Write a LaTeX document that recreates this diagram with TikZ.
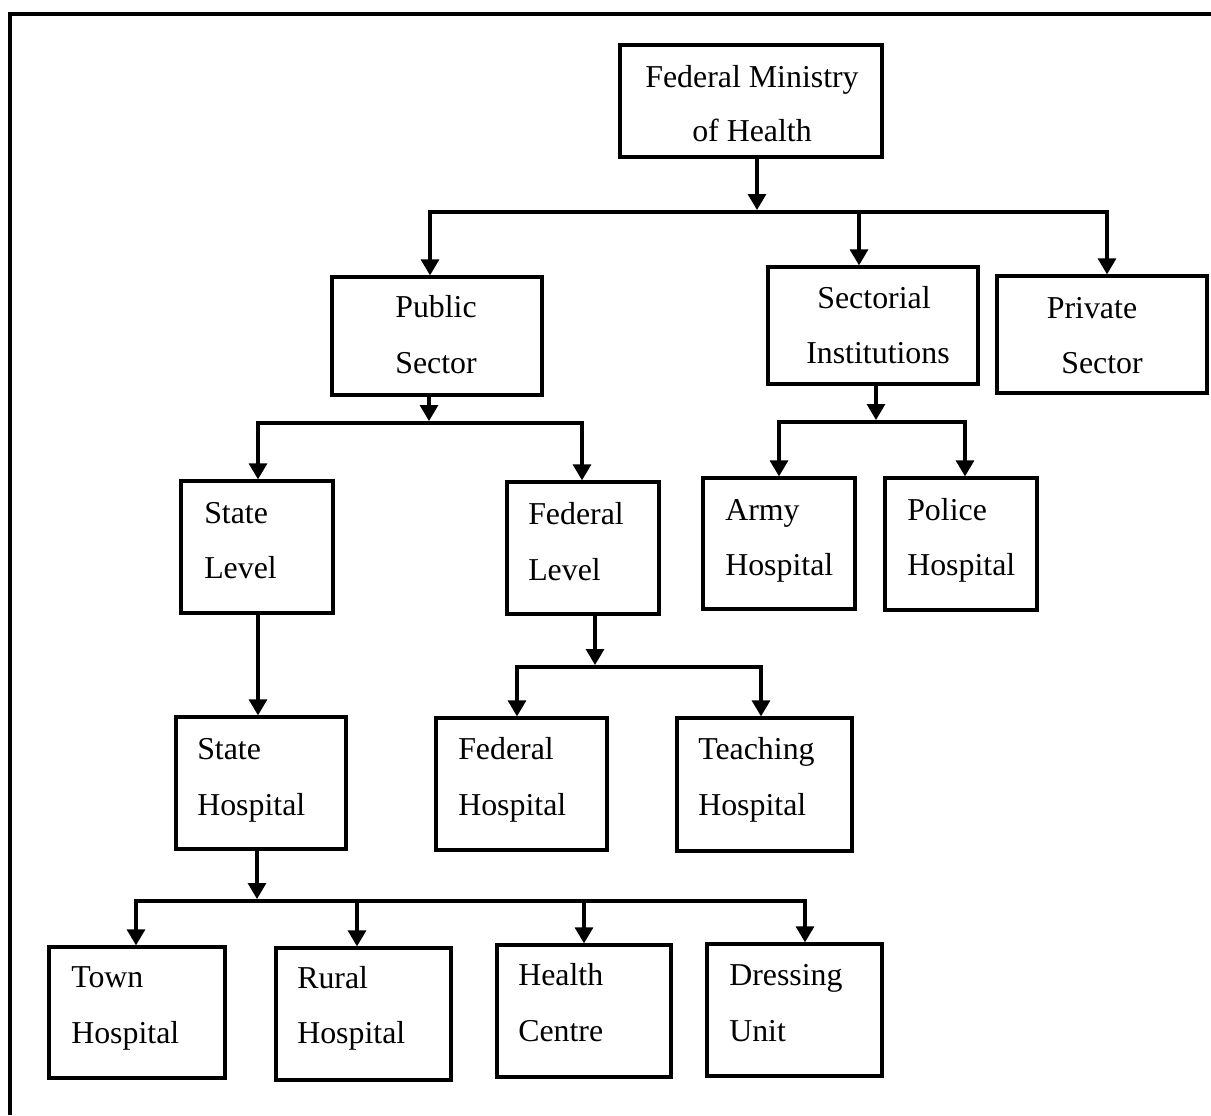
\documentclass[tikz,border=0pt]{standalone}
\usepackage{fontspec}
\setmainfont{Liberation Serif}
\usetikzlibrary{arrows.meta,fit}
\begin{document}
\begin{tikzpicture}[x=0.75pt,y=-0.75pt,
  box/.style={draw,line width=2.5pt,inner sep=0pt,rectangle},
  conn/.style={line width=2.5pt},
  arr/.style={conn,-{Triangle[width=13.5pt,length=12pt]}},
  lbl/.style={inner sep=0pt,font=\fontsize{23.9pt}{30pt}\selectfont},
  lt/.style={lbl,anchor=base west},
  ct/.style={lbl,anchor=base}]
\useasboundingbox (0,0) rectangle (1211,1115);
% frame
\draw[line width=3pt] (10,1115) -- (10,14) -- (1211,14);
% boxes
\node[box,fit={(620,45) (882,157)}] (fm) {};
\node[box,fit={(332,277) (542,395)}] (ps) {};
\node[box,fit={(768,267) (978,384)}] (si) {};
\node[box,fit={(997,276) (1207,393)}] (pv) {};
\node[box,fit={(181,481) (333,613)}] (sl) {};
\node[box,fit={(507,482) (659,614)}] (fl) {};
\node[box,fit={(703,478) (855,609)}] (ah) {};
\node[box,fit={(885,478) (1037,610)}] (ph) {};
\node[box,fit={(176,717) (346,849)}] (sh) {};
\node[box,fit={(436,718) (607,850)}] (fh) {};
\node[box,fit={(677,718) (852,851)}] (th) {};
\node[box,fit={(49,947) (225,1078)}] (tw) {};
\node[box,fit={(276,948) (451,1080)}] (ru) {};
\node[box,fit={(497,945) (671,1077)}] (hc) {};
\node[box,fit={(707,944) (882,1076)}] (du) {};
% texts
\node[ct] (fm1) at (752,87) {Federal Ministry};
\node[ct] (fm2) at (752,141) {of Health};
\node[ct] (ps1) at (436,317) {Public};
\node[ct] (ps2) at (436,373) {Sector};
\node[ct] (si1) at (874,308) {Sectorial};
\node[ct] (si2) at (878,363) {Institutions};
\node[ct] (pv1) at (1092,318) {Private};
\node[ct] (pv2) at (1102,373) {Sector};
\node[lt] (sl1) at (204,523) {State};
\node[lt] (sl2) at (204,578) {Level};
\node[lt] (fl1) at (528,524) {Federal};
\node[lt] (fl2) at (528,580) {Level};
\node[lt] (ah1) at (725,520) {Army};
\node[lt] (ah2) at (725,575) {Hospital};
\node[lt] (ph1) at (907,520) {Police};
\node[lt] (ph2) at (907,575) {Hospital};
\node[lt] (sh1) at (197,759) {State};
\node[lt] (sh2) at (197,815) {Hospital};
\node[lt] (fh1) at (458,759) {Federal};
\node[lt] (fh2) at (458,815) {Hospital};
\node[lt] (th1) at (698,759) {Teaching};
\node[lt] (th2) at (698,815) {Hospital};
\node[lt] (tw1) at (71,987) {Town};
\node[lt] (tw2) at (71,1043) {Hospital};
\node[lt] (ru1) at (297,988) {Rural};
\node[lt] (ru2) at (297,1043) {Hospital};
\node[lt] (hc1) at (518,985) {Health};
\node[lt] (hc2) at (518,1041) {Centre};
\node[lt] (du1) at (729,985) {Dressing};
\node[lt] (du2) at (729,1041) {Unit};
% junction coordinates
\coordinate (a1) at (757,210);
\coordinate (b1L) at (430,212);
\coordinate (b1M) at (859,212);
\coordinate (b1R) at (1107,212);
\coordinate (a2) at (429,421);
\coordinate (b2L) at (258,423);
\coordinate (b2R) at (582,423);
\coordinate (a3) at (876,420);
\coordinate (b3L) at (779,422);
\coordinate (b3R) at (965,422);
\coordinate (a4) at (595,665);
\coordinate (b4L) at (517,667);
\coordinate (b4R) at (761,667);
\coordinate (a5) at (257,899);
\coordinate (b5A) at (136,901);
\coordinate (b5B) at (357,901);
\coordinate (b5C) at (584,901);
\coordinate (b5D) at (805,901);
\coordinate (a6) at (258,613);
% connectors
\draw[arr] (a1 |- fm.south) -- (a1);
\draw[arr] (b1R) -- (b1L) -- (b1L |- ps.north);
\draw[arr] (b1L) -- (b1R) -- (b1R |- pv.north);
\draw[arr] (b1M) -- (b1M |- si.north);
\draw[arr] (a2 |- ps.south) -- (a2);
\draw[arr] (b2R) -- (b2L) -- (b2L |- sl.north);
\draw[arr] (b2L) -- (b2R) -- (b2R |- fl.north);
\draw[arr] (a3 |- si.south) -- (a3);
\draw[arr] (b3R) -- (b3L) -- (b3L |- ah.north);
\draw[arr] (b3L) -- (b3R) -- (b3R |- ph.north);
\draw[arr] (a6 |- sl.south) -- (a6 |- sh.north);
\draw[arr] (a4 |- fl.south) -- (a4);
\draw[arr] (b4R) -- (b4L) -- (b4L |- fh.north);
\draw[arr] (b4L) -- (b4R) -- (b4R |- th.north);
\draw[arr] (a5 |- sh.south) -- (a5);
\draw[arr] (b5D) -- (b5A) -- (b5A |- tw.north);
\draw[arr] (b5A) -- (b5D) -- (b5D |- du.north);
\draw[arr] (b5B) -- (b5B |- ru.north);
\draw[arr] (b5C) -- (b5C |- hc.north);
\end{tikzpicture}
\end{document}
